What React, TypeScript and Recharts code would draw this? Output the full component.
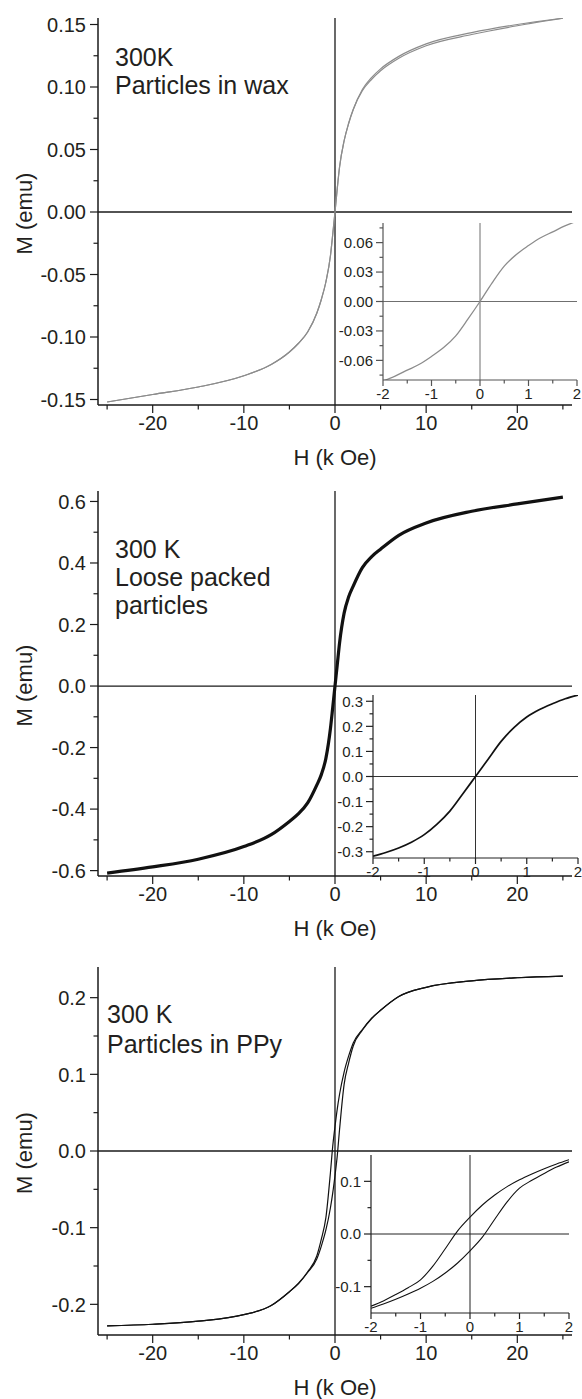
import { LineChart, Line, XAxis, YAxis, ReferenceLine } from 'recharts'

const FONT = '"Liberation Sans", Arial, Helvetica, sans-serif'
const INK = '#231f20'

// field values (k Oe) for the big plots and for the insets
const H_MAIN = [-25, -20, -15, -10, -7, -5, -4, -3, -2, -1.5, -1, -0.5, -0.25, 0, 0.25, 0.5, 1, 1.5, 2, 3, 4, 5, 7, 10, 15, 20, 25]
const H_INSET = [-2, -1.75, -1.5, -1.25, -1, -0.75, -0.5, -0.25, 0, 0.25, 0.5, 0.75, 1, 1.25, 1.5, 1.75, 2]

// 300K, particles in wax (two nearly coincident branches)
const WAX_DESC = [-0.152, -0.146, -0.14, -0.131, -0.122, -0.112, -0.105, -0.096, -0.081, -0.07, -0.056, -0.035, -0.018, 0, 0.019, 0.036, 0.057, 0.071, 0.082, 0.098, 0.1075, 0.1145, 0.1245, 0.1345, 0.1435, 0.15, 0.155]
const WAX_ASC = [-0.152, -0.146, -0.14, -0.131, -0.122, -0.112, -0.105, -0.096, -0.081, -0.07, -0.056, -0.035, -0.018, 0, 0.019, 0.036, 0.057, 0.071, 0.082, 0.097, 0.106, 0.113, 0.123, 0.133, 0.142, 0.149, 0.155]
const WAX_INSET = [-0.081, -0.076, -0.07, -0.064, -0.056, -0.047, -0.035, -0.018, 0, 0.019, 0.036, 0.048, 0.057, 0.065, 0.071, 0.077, 0.082]

// 300 K, loose packed particles
const LOOSE = [-0.608, -0.588, -0.563, -0.522, -0.483, -0.44, -0.415, -0.38, -0.322, -0.288, -0.235, -0.138, -0.07, 0, 0.07, 0.14, 0.237, 0.29, 0.325, 0.385, 0.42, 0.445, 0.49, 0.53, 0.568, 0.592, 0.614]
const LOOSE_INSET = [-0.318, -0.303, -0.285, -0.262, -0.232, -0.19, -0.138, -0.07, 0, 0.07, 0.14, 0.195, 0.237, 0.267, 0.29, 0.31, 0.325]

// 300 K, particles in PPy (open loop near zero field)
const PPY_DESC = [-0.228, -0.226, -0.222, -0.2135, -0.2015, -0.1835, -0.1725, -0.1575, -0.137, -0.115, -0.087, -0.028, 0.006, 0.032, 0.055, 0.074, 0.103, 0.124, 0.141, 0.1585, 0.173, 0.1835, 0.2015, 0.2135, 0.222, 0.226, 0.228]
const PPY_ASC = [-0.228, -0.226, -0.222, -0.2135, -0.2015, -0.1835, -0.173, -0.1585, -0.141, -0.124, -0.103, -0.074, -0.055, -0.032, -0.006, 0.028, 0.087, 0.115, 0.137, 0.1575, 0.1725, 0.1835, 0.2015, 0.2135, 0.222, 0.226, 0.228]
const PPY_INSET_DESC = [-0.137, -0.127, -0.115, -0.102, -0.087, -0.061, -0.028, 0.006, 0.032, 0.055, 0.074, 0.09, 0.103, 0.114, 0.124, 0.133, 0.141]
const PPY_INSET_ASC = [-0.141, -0.133, -0.124, -0.114, -0.103, -0.09, -0.074, -0.055, -0.032, -0.006, 0.028, 0.061, 0.087, 0.102, 0.115, 0.127, 0.137]

// ticks
const X_MAJOR = [-20, -10, 0, 10, 20]
const X_MINOR = [-25, -15, -5, 5, 15, 25]
const XI_MAJOR = [-2, -1, 0, 1, 2]
const XI_MINOR = [-1.5, -0.5, 0.5, 1.5]
const WAX_Y_MAJOR = [-0.15, -0.1, -0.05, 0, 0.05, 0.1, 0.15]
const WAX_Y_MINOR = [-0.125, -0.075, -0.025, 0.025, 0.075, 0.125]
const WAX_YI_MAJOR = [-0.06, -0.03, 0, 0.03, 0.06]
const WAX_YI_MINOR = [-0.075, -0.045, -0.015, 0.015, 0.045, 0.075]
const LOOSE_Y_MAJOR = [-0.6, -0.4, -0.2, 0, 0.2, 0.4, 0.6]
const LOOSE_Y_MINOR = [-0.5, -0.3, -0.1, 0.1, 0.3, 0.5]
const LOOSE_YI_MAJOR = [-0.3, -0.2, -0.1, 0, 0.1, 0.2, 0.3]
const LOOSE_YI_MINOR = [-0.25, -0.15, -0.05, 0.05, 0.15, 0.25]
const PPY_Y_MAJOR = [-0.2, -0.1, 0, 0.1, 0.2]
const PPY_Y_MINOR = [-0.15, -0.05, 0.05, 0.15]
const PPY_YI_MAJOR = [-0.1, 0, 0.1]
const PPY_YI_MINOR = [-0.05, 0.05]

const rows = (h: number[], cols: Record<string, number[]>) =>
  h.map((v, i) => {
    const r: Record<string, number> = { h: v }
    for (const k of Object.keys(cols)) r[k] = cols[k][i]
    return r
  })

const isIn = (list: number[], v: number) => list.some((m) => Math.abs(m - v) < 1e-9)
const merged = (a: number[], b: number[]) => [...a, ...b].sort((p, q) => p - q)

function makeXTick(major: number[], inset: boolean, color: string) {
  const fs = inset ? 15 : 20
  const big = inset ? 6 : 8
  const small = inset ? 3.5 : 4.5
  const dy = inset ? 19 : 25
  return (p: any) => {
    const v = p.payload.value as number
    const m = isIn(major, v)
    return (
      <g>
        <line x1={p.x} x2={p.x} y1={p.y} y2={p.y + (m ? big : small)} stroke={color} strokeWidth={1.2} />
        {m && (
          <text x={p.x} y={p.y + dy} textAnchor="middle" fontSize={fs} fontFamily={FONT} fill={INK}>
            {String(v)}
          </text>
        )}
      </g>
    )
  }
}

function makeYTick(major: number[], digits: number, inset: boolean, color: string) {
  const fs = inset ? 15 : 20
  const big = inset ? 7 : 8
  const small = inset ? 3.5 : 4.5
  const gap = inset ? 10 : 12
  return (p: any) => {
    const v = p.payload.value as number
    const m = isIn(major, v)
    return (
      <g>
        <line x1={p.x - (m ? big : small)} x2={p.x} y1={p.y} y2={p.y} stroke={color} strokeWidth={1.2} />
        {m && (
          <text x={p.x - gap} y={p.y} dy="0.36em" textAnchor="end" fontSize={fs} fontFamily={FONT} fill={INK}>
            {v.toFixed(digits)}
          </text>
        )}
      </g>
    )
  }
}

interface Series { key: string; color: string; width: number }
interface Note { text: string; x: number; y: number }

interface PlotSpec {
  left: number
  top: number
  width: number
  height: number
  margin: { top: number; right: number; left: number; bottom: number }
  yAxisWidth: number
  xAxisHeight: number
  data: Record<string, number>[]
  series: Series[]
  xDomain: [number, number]
  xMajor: number[]
  xMinor: number[]
  yDomain: [number, number]
  yMajor: number[]
  yMinor: number[]
  yDigits: number
  axisColor: string
  zeroColor: string
  inset?: boolean
  notes?: Note[]
}

function Plot({ s }: { s: PlotSpec }) {
  const plotBottom = s.height - s.margin.bottom - s.xAxisHeight
  const plotTop = s.margin.top
  const plotLeft = s.margin.left + s.yAxisWidth
  const plotRight = s.width - s.margin.right
  const midY = (plotTop + plotBottom) / 2 + 2
  return (
    <div style={{ position: 'absolute', left: s.left, top: s.top }}>
      <LineChart width={s.width} height={s.height} data={s.data} margin={s.margin}>
        <XAxis
          type="number"
          dataKey="h"
          domain={s.xDomain}
          allowDataOverflow
          ticks={merged(s.xMajor, s.xMinor)}
          interval={0}
          tickSize={0}
          tickMargin={0}
          tickLine={false}
          tick={makeXTick(s.xMajor, !!s.inset, s.axisColor)}
          axisLine={{ stroke: s.axisColor, strokeWidth: s.inset ? 1.2 : 1.5 }}
          height={s.xAxisHeight}
        />
        <YAxis
          type="number"
          domain={s.yDomain}
          allowDataOverflow
          ticks={merged(s.yMajor, s.yMinor)}
          interval={0}
          tickSize={0}
          tickMargin={0}
          tickLine={false}
          tick={makeYTick(s.yMajor, s.yDigits, !!s.inset, s.axisColor)}
          axisLine={{ stroke: s.axisColor, strokeWidth: s.inset ? 1.2 : 1.5 }}
          width={s.yAxisWidth}
        />
        <ReferenceLine x={0} stroke={s.zeroColor} strokeWidth={s.inset ? 1 : 1.3} />
        <ReferenceLine y={0} stroke={s.zeroColor} strokeWidth={s.inset ? 1 : 1.3} />
        {s.series.map((se) => (
          <Line
            key={se.key}
            type="monotone"
            dataKey={se.key}
            stroke={se.color}
            strokeWidth={se.width}
            dot={false}
            activeDot={false}
            isAnimationActive={false}
          />
        ))}
        {!s.inset && (
          <text x={(plotLeft + plotRight) / 2} y={plotBottom + 60} textAnchor="middle" fontSize={22} fontFamily={FONT} fill={INK}>
            H (k Oe)
          </text>
        )}
        {!s.inset && (
          <text
            x={32}
            y={midY}
            transform={`rotate(-90 32 ${midY})`}
            textAnchor="middle"
            fontSize={22}
            fontFamily={FONT}
            fill={INK}
          >
            M (emu)
          </text>
        )}
        {(s.notes || []).map((n) => (
          <text key={n.text} x={n.x} y={n.y - s.top} fontSize={25} fontFamily={FONT} fill={INK}>
            {n.text}
          </text>
        ))}
      </LineChart>
    </div>
  )
}

const MAIN_BASE = {
  left: 0,
  width: 582,
  yAxisWidth: 90,
  xDomain: [-26, 26] as [number, number],
  xMajor: X_MAJOR,
  xMinor: X_MINOR,
  axisColor: '#1a1a1a',
  zeroColor: '#1a1a1a',
}

const INSET_BASE = {
  xDomain: [-2, 2] as [number, number],
  xMajor: XI_MAJOR,
  xMinor: XI_MINOR,
  xAxisHeight: 25,
  inset: true,
}

const plots: PlotSpec[] = [
  {
    ...MAIN_BASE,
    top: 0,
    height: 470,
    margin: { top: 18, right: 10, left: 8, bottom: 0 },
    xAxisHeight: 65,
    data: rows(H_MAIN, { a: WAX_DESC, b: WAX_ASC }),
    series: [
      { key: 'a', color: '#8c8c8c', width: 1.2 },
      { key: 'b', color: '#8c8c8c', width: 1.2 },
    ],
    yDomain: [-0.1544, 0.1552],
    yMajor: WAX_Y_MAJOR,
    yMinor: WAX_Y_MINOR,
    yDigits: 2,
    notes: [
      { text: '300K', x: 115, y: 66 },
      { text: 'Particles in wax', x: 115, y: 94 },
    ],
  },
  {
    ...INSET_BASE,
    left: 330,
    top: 210,
    width: 252,
    height: 195,
    margin: { top: 13, right: 5, left: 0, bottom: 0 },
    yAxisWidth: 53,
    data: rows(H_INSET, { a: WAX_INSET }),
    series: [{ key: 'a', color: '#8c8c8c', width: 1.3 }],
    yDomain: [-0.08, 0.08],
    yMajor: WAX_YI_MAJOR,
    yMinor: WAX_YI_MINOR,
    yDigits: 2,
    axisColor: '#555555',
    zeroColor: '#6f6f6f',
  },
  {
    ...MAIN_BASE,
    top: 470,
    height: 470,
    margin: { top: 21, right: 10, left: 8, bottom: 0 },
    xAxisHeight: 64,
    data: rows(H_MAIN, { a: LOOSE }),
    series: [{ key: 'a', color: '#111111', width: 3.2 }],
    yDomain: [-0.6175, 0.634],
    yMajor: LOOSE_Y_MAJOR,
    yMinor: LOOSE_Y_MINOR,
    yDigits: 1,
    notes: [
      { text: '300 K', x: 115, y: 558 },
      { text: 'Loose packed', x: 115, y: 586 },
      { text: 'particles', x: 115, y: 614 },
    ],
  },
  {
    ...INSET_BASE,
    left: 320,
    top: 680,
    width: 262,
    height: 203,
    margin: { top: 15, right: 4, left: 0, bottom: 0 },
    yAxisWidth: 53,
    data: rows(H_INSET, { a: LOOSE_INSET }),
    series: [{ key: 'a', color: '#111111', width: 1.7 }],
    yDomain: [-0.325, 0.325],
    yMajor: LOOSE_YI_MAJOR,
    yMinor: LOOSE_YI_MINOR,
    yDigits: 1,
    axisColor: '#222222',
    zeroColor: '#333333',
  },
  {
    ...MAIN_BASE,
    top: 940,
    height: 459,
    margin: { top: 27, right: 10, left: 8, bottom: 0 },
    xAxisHeight: 64,
    data: rows(H_MAIN, { a: PPY_DESC, b: PPY_ASC }),
    series: [
      { key: 'a', color: '#111111', width: 1.2 },
      { key: 'b', color: '#111111', width: 1.2 },
    ],
    yDomain: [-0.24, 0.24],
    yMajor: PPY_Y_MAJOR,
    yMinor: PPY_Y_MINOR,
    yDigits: 1,
    notes: [
      { text: '300 K', x: 107, y: 1023 },
      { text: 'Particles in PPy', x: 107, y: 1053 },
    ],
  },
  {
    ...INSET_BASE,
    left: 320,
    top: 1140,
    width: 262,
    height: 198,
    margin: { top: 15, right: 13, left: 0, bottom: 0 },
    yAxisWidth: 51,
    data: rows(H_INSET, { a: PPY_INSET_DESC, b: PPY_INSET_ASC }),
    series: [
      { key: 'a', color: '#111111', width: 1.1 },
      { key: 'b', color: '#111111', width: 1.1 },
    ],
    yDomain: [-0.15, 0.15],
    yMajor: PPY_YI_MAJOR,
    yMinor: PPY_YI_MINOR,
    yDigits: 1,
    axisColor: '#222222',
    zeroColor: '#222222',
  },
]

export default function App() {
  return (
    <div style={{ position: 'absolute', left: 0, top: 0, width: 582, height: 1399, background: '#fff', fontFamily: FONT }}>
      {plots.map((p, i) => (
        <Plot key={i} s={p} />
      ))}
    </div>
  )
}
